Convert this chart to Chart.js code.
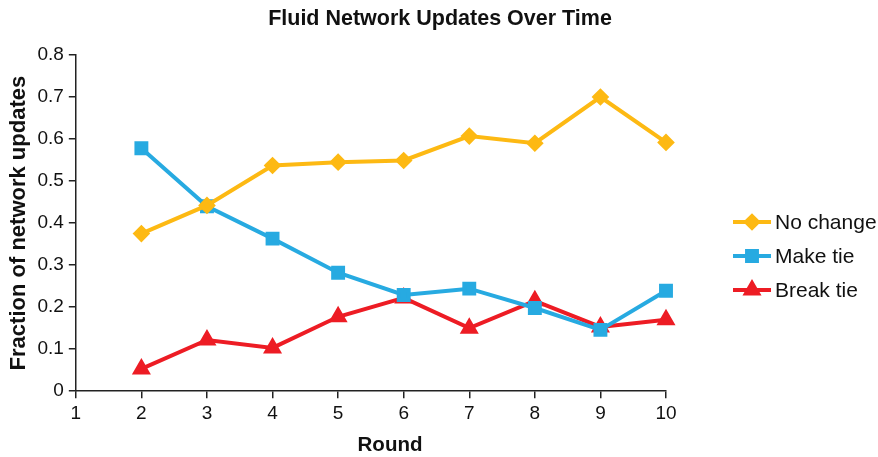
<!DOCTYPE html>
<html>
<head>
<meta charset="utf-8">
<script src="https://cdn.jsdelivr.net/npm/chart.js@4.4.1/dist/chart.umd.min.js"></script>
<style>
  html, body { margin: 0; padding: 0; background: #fff; }
  #wrap { width: 878px; height: 457px; }
</style>
</head>
<body>
<div id="wrap"><canvas id="c" width="878" height="457"></canvas></div>
<script>
const rounds = [2, 3, 4, 5, 6, 7, 8, 9, 10];
const noChange = [0.375, 0.442, 0.537, 0.545, 0.549, 0.607, 0.590, 0.700, 0.592];
const makeTie = [0.578, 0.440, 0.363, 0.282, 0.229, 0.244, 0.198, 0.146, 0.239];
const breakTie = [0.053, 0.122, 0.103, 0.177, 0.222, 0.150, 0.215, 0.153, 0.170];
const seriesNames = ["No change", "Make tie", "Break tie"];

const FONT = "'Liberation Sans', Arial, sans-serif";

function pts(vals) {
  return rounds.map((r, i) => ({ x: r, y: vals[i] }));
}

// legend drawn as line + marker, like the original; title and "Round" are
// placed by hand because the original centres them on the whole figure
const extras = {
  id: "extras",
  afterDraw(chart) {
    const ctx = chart.ctx;
    const x0 = 733, y0 = 222, gap = 34;
    chart.data.datasets.forEach((ds, i) => {
      const y = y0 + i * gap;
      ctx.save();
      ctx.strokeStyle = ds.borderColor;
      ctx.lineWidth = 4;
      ctx.beginPath();
      ctx.moveTo(x0, y);
      ctx.lineTo(x0 + 38, y);
      ctx.stroke();
      Chart.helpers.drawPoint(ctx, {
        pointStyle: ds.pointStyle,
        radius: ds.pointRadius,
        borderWidth: 1
      }, x0 + 19, y);
      ctx.fillStyle = ds.borderColor;
      ctx.fill();
      ctx.fillStyle = "#111";
      ctx.font = "21px " + FONT;
      ctx.textBaseline = "middle";
      ctx.fillText(ds.label, x0 + 42, y + 1);
      ctx.restore();
    });
    ctx.save();
    ctx.fillStyle = "#111";
    ctx.textAlign = "center";
    ctx.textBaseline = "middle";
    ctx.font = "bold 21.5px " + FONT;
    ctx.fillText("Fluid Network Updates Over Time", 440, 19);
    ctx.font = "bold 20.5px " + FONT;
    ctx.fillText("Round", 390, 445);
    ctx.restore();
  }
};

new Chart(document.getElementById("c"), {
  type: "line",
  data: {
    datasets: [
      {
        label: seriesNames[0], data: pts(noChange),
        borderColor: "#FDB913", backgroundColor: "#FDB913",
        pointStyle: "rectRot", pointRadius: 6, borderWidth: 4, clip: false
      },
      {
        label: seriesNames[1], data: pts(makeTie),
        borderColor: "#27AAE1", backgroundColor: "#27AAE1",
        pointStyle: "rect", pointRadius: 7, borderWidth: 4, clip: false
      },
      {
        label: seriesNames[2], data: pts(breakTie),
        borderColor: "#ED1C24", backgroundColor: "#ED1C24",
        pointStyle: "triangle", pointRadius: 7, borderWidth: 4, clip: false
      }
    ]
  },
  options: {
    responsive: false,
    animation: false,
    layout: { padding: { top: 55, right: 212, left: 6, bottom: 28 } },
    plugins: {
      legend: { display: false },
      tooltip: { enabled: false },
      title: { display: false }
    },
    scales: {
      x: {
        type: "linear",
        min: 1, max: 10,
        ticks: { stepSize: 1, color: "#111", font: { family: FONT, size: 19 }, padding: 4 },
        grid: { drawOnChartArea: false, tickLength: 7, color: "#222", lineWidth: 1.5 },
        border: { color: "#222", width: 1.5 }
      },
      y: {
        min: 0, max: 0.8,
        ticks: { stepSize: 0.1, color: "#111", font: { family: FONT, size: 19 }, padding: 5,
          callback: v => Math.round(v * 10) / 10 + "" },
        grid: { drawOnChartArea: false, tickLength: 7, color: "#222", lineWidth: 1.5 },
        border: { color: "#222", width: 1.5 },
        title: { display: true, text: "Fraction of network updates", color: "#111", font: { family: FONT, size: 22, weight: "bold" }, padding: 0 }
      }
    }
  },
  plugins: [extras]
});
</script>
</body>
</html>
